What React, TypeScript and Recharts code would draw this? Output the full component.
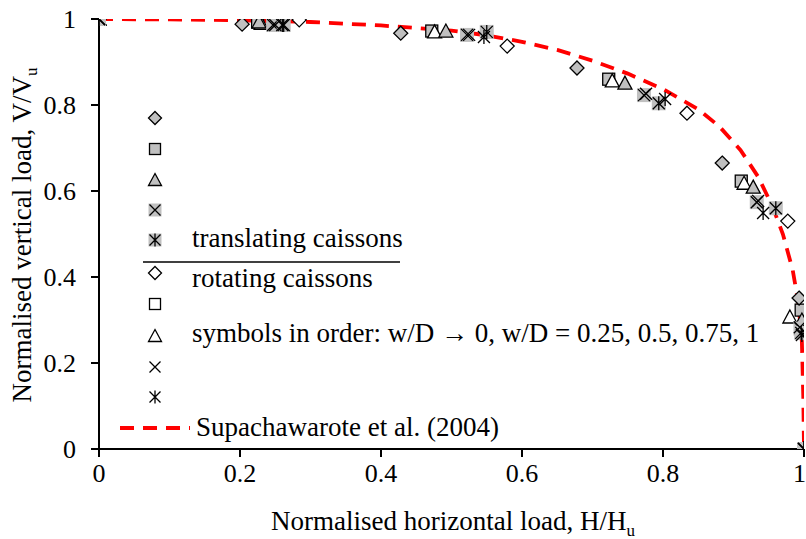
import React from "react"
import { Scatter, ScatterChart, XAxis, YAxis } from "recharts"

// translating caissons (grey filled symbols)
const transDiamond = [
  { x: 0, y: 1 },
  { x: 0.203, y: 0.988 },
  { x: 0.428, y: 0.967 },
  { x: 0.678, y: 0.886 },
  { x: 0.884, y: 0.665 },
  { x: 0.993, y: 0.351 },
  { x: 1, y: 0 },
]
const transSquare = [
  { x: 0, y: 1 },
  { x: 0.225, y: 0.993 },
  { x: 0.472, y: 0.972 },
  { x: 0.723, y: 0.86 },
  { x: 0.911, y: 0.623 },
  { x: 0.996, y: 0.323 },
  { x: 1, y: 0 },
]
const transTriangle = [
  { x: 0, y: 1 },
  { x: 0.227, y: 0.993 },
  { x: 0.492, y: 0.972 },
  { x: 0.746, y: 0.851 },
  { x: 0.928, y: 0.609 },
  { x: 0.997, y: 0.3 },
  { x: 1, y: 0 },
]
const transCross = [
  { x: 0, y: 1 },
  { x: 0.247, y: 0.986 },
  { x: 0.522, y: 0.963 },
  { x: 0.773, y: 0.823 },
  { x: 0.933, y: 0.574 },
  { x: 0.995, y: 0.28 },
  { x: 1, y: 0 },
]
const transStar = [
  { x: 0, y: 1 },
  { x: 0.262, y: 0.986 },
  { x: 0.55, y: 0.97 },
  { x: 0.794, y: 0.804 },
  { x: 0.96, y: 0.56 },
  { x: 0.996, y: 0.27 },
  { x: 1, y: 0 },
]

// rotating caissons (open symbols)
const rotDiamond = [
  { x: 0, y: 1 },
  { x: 0.284, y: 0.998 },
  { x: 0.579, y: 0.937 },
  { x: 0.834, y: 0.781 },
  { x: 0.977, y: 0.53 },
  { x: 1, y: 0 },
]
const rotSquare = [
  { x: 0, y: 1 },
  { x: 1, y: 0 },
]
const rotTriangle = [
  { x: 0, y: 1 },
  { x: 0.23, y: 0.99 },
  { x: 0.476, y: 0.97 },
  { x: 0.728, y: 0.856 },
  { x: 0.915, y: 0.618 },
  { x: 0.98, y: 0.307 },
  { x: 1, y: 0 },
]
const rotCross = [
  { x: 0, y: 1 },
  { x: 0.25, y: 0.986 },
  { x: 0.525, y: 0.963 },
  { x: 0.776, y: 0.826 },
  { x: 0.935, y: 0.577 },
  { x: 0.994, y: 0.283 },
  { x: 1, y: 0 },
]
const rotStar = [
  { x: 0, y: 1 },
  { x: 0.26, y: 0.986 },
  { x: 0.546, y: 0.958 },
  { x: 0.803, y: 0.814 },
  { x: 0.942, y: 0.549 },
  { x: 0.997, y: 0.265 },
  { x: 1, y: 0 },
]

// Supachawarote et al. (2004) envelope
const curveH = [0, 0.1, 0.2, 0.3, 0.4, 0.45, 0.5, 0.55, 0.6, 0.65, 0.7, 0.75, 0.8, 0.85, 0.88, 0.91, 0.935, 0.955, 0.97, 0.984, 0.992, 0.997, 0.999, 1]
const curveV = [1, 0.999, 0.997, 0.993, 0.985, 0.979, 0.973, 0.962, 0.947, 0.928, 0.903, 0.873, 0.837, 0.79, 0.75, 0.695, 0.633, 0.565, 0.5, 0.416, 0.34, 0.25, 0.12, 0]
const curve = curveH.map((h, i) => ({ x: h, y: curveV[i] }))

const xTicks = [0, 0.2, 0.4, 0.6, 0.8, 1]
const yTicks = [0, 0.2, 0.4, 0.6, 0.8, 1]

const FONT = "Liberation Serif"
const FS = 27
const GREY = "#c0c0c0"

type Kind = "diamond" | "square" | "triangle" | "cross" | "star"

function Marker({ cx, cy, kind, filled, s = 7 }: { cx: number; cy: number; kind: Kind; filled: boolean; s?: number }) {
  const fill = filled ? GREY : "#fff"
  const st = { stroke: "#000", strokeWidth: 1.3 }
  if (kind === "diamond")
    return <polygon points={`${cx},${cy - s} ${cx + s},${cy} ${cx},${cy + s} ${cx - s},${cy}`} fill={fill} {...st} />
  if (kind === "square")
    return <rect x={cx - s + 1} y={cy - s + 1} width={2 * s - 2} height={2 * s - 2} fill={fill} {...st} />
  if (kind === "triangle")
    return <polygon points={`${cx},${cy - s} ${cx + s},${cy + s - 1} ${cx - s},${cy + s - 1}`} fill={fill} {...st} />
  const bg = filled ? <rect x={cx - s} y={cy - s} width={2 * s} height={2 * s} fill={GREY} /> : null
  const d = s - 1
  if (kind === "cross")
    return (
      <g>
        {bg}
        <path d={`M${cx - d},${cy - d}L${cx + d},${cy + d}M${cx - d},${cy + d}L${cx + d},${cy - d}`} {...st} />
      </g>
    )
  return (
    <g>
      {bg}
      <path
        d={`M${cx - d},${cy - d}L${cx + d},${cy + d}M${cx - d},${cy + d}L${cx + d},${cy - d}M${cx},${cy - s}L${cx},${cy + s}`}
        {...st}
      />
    </g>
  )
}

const shapeOf = (kind: Kind, filled: boolean) => (p: any) => <Marker cx={p.cx} cy={p.cy} kind={kind} filled={filled} />

const series: { data: { x: number; y: number }[]; kind: Kind; filled: boolean }[] = [
  { data: rotSquare, kind: "square", filled: false },
  { data: transSquare, kind: "square", filled: true },
  { data: rotTriangle, kind: "triangle", filled: false },
  { data: transTriangle, kind: "triangle", filled: true },
  { data: transDiamond, kind: "diamond", filled: true },
  { data: rotDiamond, kind: "diamond", filled: false },
  { data: transCross, kind: "cross", filled: true },
  { data: transStar, kind: "star", filled: true },
  { data: rotCross, kind: "cross", filled: false },
  { data: rotStar, kind: "star", filled: false },
]

const legendRows: { kind: Kind; filled: boolean; y: number }[] = [
  { kind: "diamond", filled: true, y: 118 },
  { kind: "square", filled: true, y: 149 },
  { kind: "triangle", filled: true, y: 180 },
  { kind: "cross", filled: true, y: 210 },
  { kind: "star", filled: true, y: 240 },
  { kind: "diamond", filled: false, y: 273 },
  { kind: "square", filled: false, y: 304 },
  { kind: "triangle", filled: false, y: 336 },
  { kind: "cross", filled: false, y: 367 },
  { kind: "star", filled: false, y: 397 },
]

export default function App() {
  const tick = { fill: "#000", fontSize: 26, fontFamily: FONT }
  return (
    <div style={{ position: "fixed", left: 0, top: 0, width: 806, height: 539, background: "#fff" }}>
      <ScatterChart width={806} height={539} margin={{ top: 19, right: 2, bottom: 30, left: 0 }}>
        <XAxis
          type="number"
          dataKey="x"
          domain={[0, 1]}
          ticks={xTicks}
          tickFormatter={(v) => String(v)}
          stroke="#000"
          strokeWidth={2}
          tickSize={8}
          tickMargin={7}
          tick={tick}
          height={60}
          allowDataOverflow
        />
        <YAxis
          type="number"
          dataKey="y"
          domain={[0, 1]}
          ticks={yTicks}
          tickFormatter={(v) => String(v)}
          stroke="#000"
          strokeWidth={2}
          tickSize={8}
          tickMargin={15}
          tick={tick}
          width={99}
          allowDataOverflow
        />
        <Scatter
          data={curve}
          line={{ stroke: "#ff0000", strokeWidth: 3.8, strokeDasharray: "14 9" }}
          lineType="joint"
          shape={() => <g />}
          isAnimationActive={false}
        />
        {series.map((s, i) => (
          <Scatter key={i} data={s.data} shape={shapeOf(s.kind, s.filled)} isAnimationActive={false} />
        ))}
      </ScatterChart>
      <svg
        width={806}
        height={539}
        style={{ position: "absolute", left: 0, top: 0, pointerEvents: "none" }}
        fontFamily={FONT}
        fontSize={FS}
      >
        {legendRows.map((r, i) => (
          <Marker key={i} cx={155} cy={r.y} kind={r.kind} filled={r.filled} s={6.5} />
        ))}
        <text x={192} y={247}>translating caissons</text>
        <line x1={143} x2={400} y1={262} y2={262} stroke="#000" strokeWidth={1.5} />
        <text x={192} y={287}>rotating caissons</text>
        <text x={192} y={342}>symbols in order: w/D → 0, w/D = 0.25, 0.5, 0.75, 1</text>
        <line x1={120} x2={190} y1={428} y2={428} stroke="#ff0000" strokeWidth={3.8} strokeDasharray="14 9" />
        <text x={196} y={436}>Supachawarote et al. (2004)</text>
        <text x={453} y={530} textAnchor="middle">
          Normalised horizontal load, H/H<tspan fontSize={17} dy={6}>u</tspan>
        </text>
        <text x={0} y={0} textAnchor="middle" transform="translate(31,235) rotate(-90)">
          Normalised vertical load, V/V<tspan fontSize={17} dy={6}>u</tspan>
        </text>
      </svg>
    </div>
  )
}
